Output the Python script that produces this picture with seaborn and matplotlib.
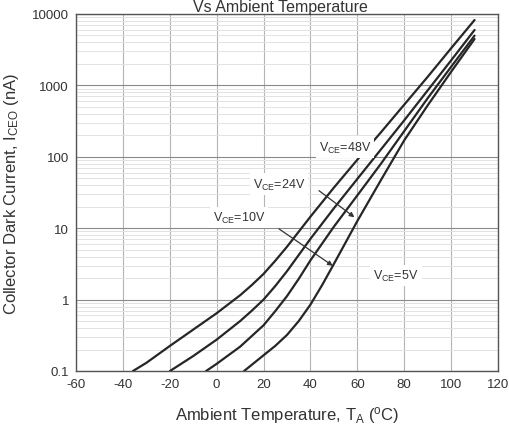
import numpy as np
import pandas as pd
import matplotlib
matplotlib.use("Agg")
import matplotlib.pyplot as plt
from matplotlib.ticker import NullFormatter, LogLocator
import seaborn as sns

# ---- data ----
temp_48 = [-35.7, -30, -20, -10, 0, 10, 15, 20, 25, 30, 40, 50, 60, 70, 80, 90, 100, 110]
ice_48 = [0.1, 0.13, 0.224, 0.38, 0.645, 1.15, 1.6, 2.29, 3.5, 5.5, 14.5, 37, 91, 219, 537, 1318, 3311, 8240]

temp_24 = [-19.9, -10, 0, 10, 15, 20, 25, 30, 40, 50, 60, 70, 80, 90, 100, 110]
ice_24 = [0.1, 0.162, 0.275, 0.50, 0.70, 1.0, 1.55, 2.5, 7.1, 19, 49, 126, 324, 851, 2239, 5970]

temp_10 = [-4.5, 0, 10, 20, 25, 30, 35, 40, 50, 60, 70, 80, 90, 100, 110]
ice_10 = [0.1, 0.126, 0.219, 0.437, 0.69, 1.12, 1.95, 3.55, 10.5, 28.8, 79.4, 229, 661, 1820, 4970]

temp_5 = [11.7, 20, 25, 30, 35, 40, 45, 50, 60, 70, 80, 90, 100, 110]
ice_5 = [0.1, 0.166, 0.225, 0.32, 0.5, 0.85, 1.6, 3.16, 12.6, 46.8, 170, 525, 1550, 4470]

series_names = ["48V", "24V", "10V", "5V"]
x_ticks = [-60, -40, -20, 0, 20, 40, 60, 80, 100, 120]
y_ticks = [0.1, 1, 10, 100, 1000, 10000]
y_ticklabels = ["0.1", "1", "10", "100", "1000", "10000"]

frames = []
for name, t, v in zip(series_names, [temp_48, temp_24, temp_10, temp_5],
                      [ice_48, ice_24, ice_10, ice_5]):
    frames.append(pd.DataFrame({"T": t, "I": v, "VCE": name}))
df = pd.concat(frames, ignore_index=True)

sns.set_theme(style="white")
plt.rcParams["font.family"] = ["Liberation Sans", "DejaVu Sans"]
plt.rcParams["mathtext.fontset"] = "custom"
plt.rcParams["mathtext.rm"] = "Liberation Sans"
plt.rcParams["mathtext.it"] = "Liberation Sans"
plt.rcParams["mathtext.default"] = "rm"

fig = plt.figure(figsize=(5.10, 4.35), dpi=100)
ax = fig.add_axes([76/510, 1 - 372/435, (498-76)/510, (372-15)/435])

txt = "#333333"
ax.set_yscale("log")
ax.set_xlim(-60, 120)
ax.set_ylim(0.1, 10000)

# grid
ax.yaxis.set_minor_locator(LogLocator(base=10, subs=np.arange(2, 10)))
ax.yaxis.set_minor_formatter(NullFormatter())
ax.grid(True, which="minor", axis="y", color="#e2e2e2", lw=0.7, zorder=0)
ax.grid(True, which="major", axis="y", color="#8a8a8a", lw=0.8, zorder=0)
ax.grid(True, which="major", axis="x", color="#b5b5b5", lw=0.8, zorder=0)

sns.lineplot(data=df, x="T", y="I", hue="VCE", units="VCE", estimator=None,
             palette=["#262626"] * 4, linewidth=1.6, legend=False, ax=ax,
             sort=False, zorder=3)

ax.set_xticks(x_ticks)
ax.set_xticklabels([str(v) for v in x_ticks])
ax.set_yticks(y_ticks)
ax.set_yticklabels(y_ticklabels)
ax.tick_params(axis="both", which="both", length=0, labelsize=9.5,
               labelcolor=txt, pad=5)
for s in ax.spines.values():
    s.set_color("#555555")
    s.set_linewidth(1.0)

ax.set_xlabel("Ambient Temperature, T$_{A}$ ($^{o}$C)", fontsize=12, color=txt,
              labelpad=10)
ax.set_ylabel("Collector Dark Current, I$_{CEO}$ (nA)", fontsize=12, color=txt,
              labelpad=8)

box = dict(boxstyle="square,pad=0.25", fc="white", ec="none")
labels = [("V$_{CE}$=48V", 54.8, 137), ("V$_{CE}$=24V", 26.6, 41.6),
          ("V$_{CE}$=10V", 9.5, 14.2), ("V$_{CE}$=5V", 76.5, 2.16)]
for s, x, y in labels:
    ax.text(x, y, s, fontsize=9, color=txt, ha="center", va="center",
            bbox=box, zorder=4)

arrow = dict(arrowstyle="-|>", color="#333333", lw=0.9, mutation_scale=7)
ax.annotate("", xy=(59.7, 13.5), xytext=(42.7, 35.4), arrowprops=arrow, zorder=5)
ax.annotate("", xy=(50.5, 2.83), xytext=(25.6, 10.3), arrowprops=arrow, zorder=5)

fig.text(280/510, 1 - 12/435, "Vs Ambient Temperature", fontsize=11.5,
         color=txt, ha="center", va="baseline")

fig.savefig("out.png", dpi=100)
